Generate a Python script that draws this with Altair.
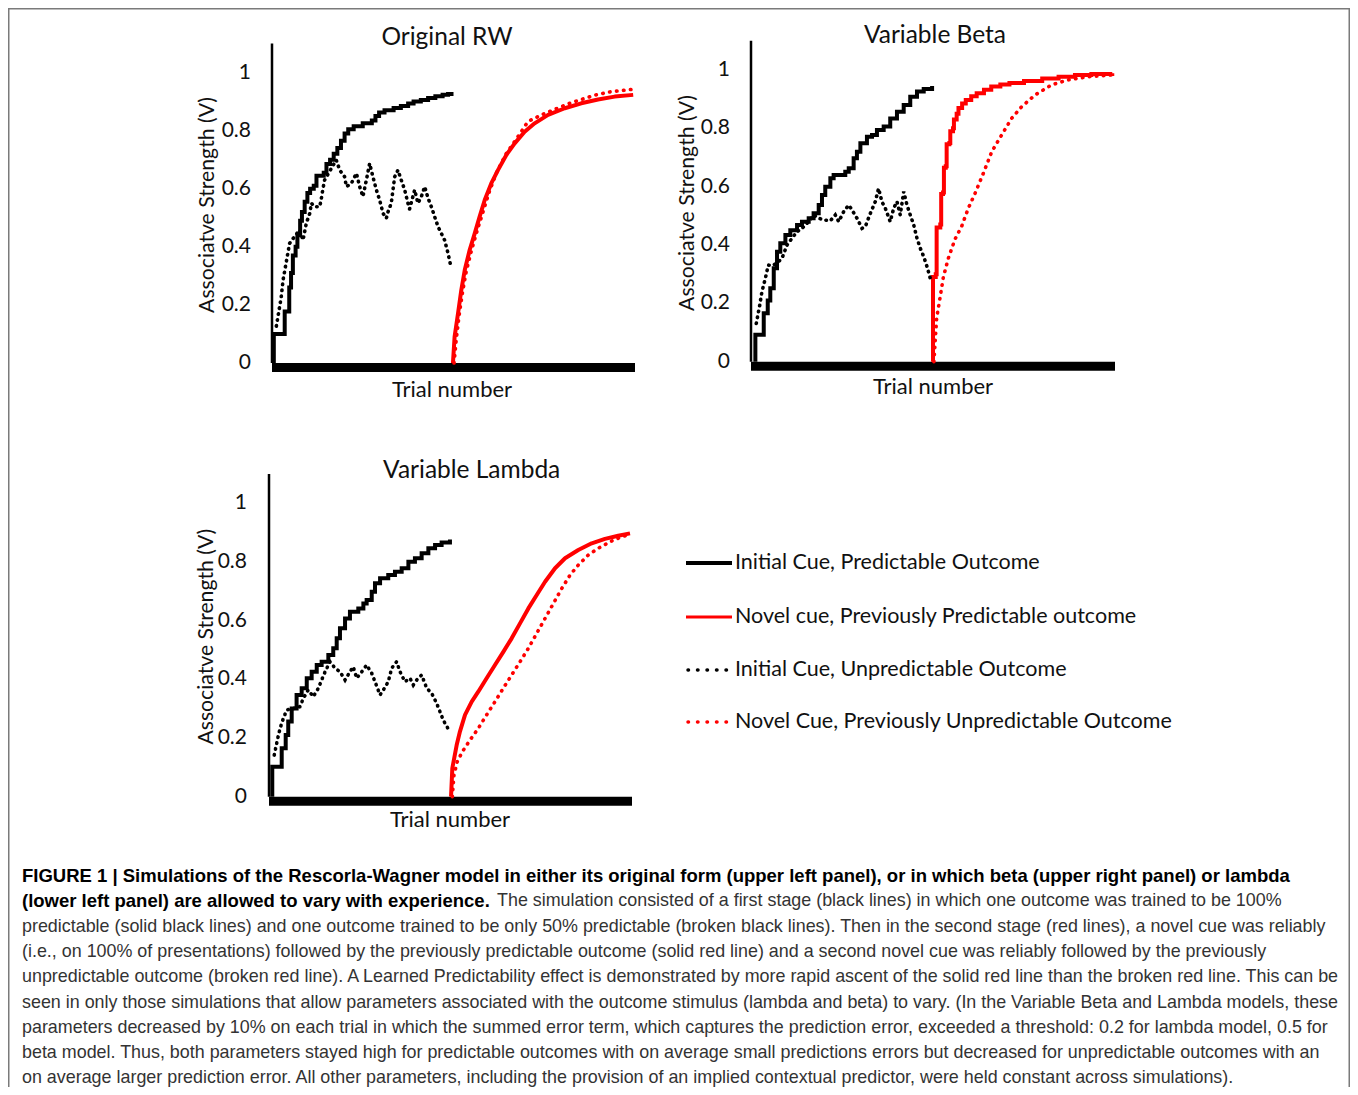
import altair as alt
import pandas as pd

# ---------------- data ----------------
# trial axis runs 0..200 (stage 1: 0-100, stage 2: 100-200); V axis 0..1.1

# Panel 1: Original RW
p1_init_pred_t = [1, 1, 7, 9.5, 10.5, 11.5, 13, 14, 15.5, 16.5, 18, 19.5, 21, 23, 24.5, 28.5, 30, 32, 34, 36, 38, 40, 42, 45, 50, 55, 57, 59, 62, 67, 71, 75, 78, 82, 86, 90, 94, 97, 100]
p1_init_pred_v = [0, 0.1, 0.177, 0.26, 0.31, 0.37, 0.40, 0.44, 0.49, 0.52, 0.555, 0.585, 0.60, 0.61, 0.645, 0.655, 0.685, 0.70, 0.72, 0.74, 0.765, 0.79, 0.805, 0.815, 0.825, 0.835, 0.85, 0.862, 0.87, 0.878, 0.885, 0.893, 0.90, 0.905, 0.912, 0.918, 0.923, 0.926, 0.926]
p1_init_unpred_t = [2.4, 4.2, 5.1, 6.1, 7.9, 9.7, 12.4, 15.2, 17.1, 18.9, 20.8, 21.7, 23.5, 26.3, 27.2, 28.1, 29.0, 32.7, 35.4, 37.3, 40.0, 41.0, 43.7, 46.5, 48.3, 50.1, 52.0, 53.8, 55.6, 57.5, 59.3, 61.2, 63.0, 63.9, 65.7, 67.6, 69.4, 71.2, 73.1, 74.9, 75.8, 78.6, 80.4, 82.3, 84.1, 86.0, 87.8, 89.6, 91.5, 93.3, 95.1, 97.0, 98.4]
p1_init_unpred_v = [0.127, 0.194, 0.228, 0.286, 0.349, 0.412, 0.435, 0.458, 0.423, 0.481, 0.515, 0.55, 0.538, 0.538, 0.567, 0.601, 0.63, 0.67, 0.699, 0.664, 0.641, 0.607, 0.618, 0.653, 0.607, 0.573, 0.63, 0.687, 0.641, 0.596, 0.561, 0.515, 0.498, 0.52, 0.55, 0.641, 0.664, 0.63, 0.596, 0.55, 0.53, 0.596, 0.55, 0.573, 0.607, 0.567, 0.538, 0.504, 0.469, 0.446, 0.423, 0.377, 0.337]
p1_novel_pred_t = [99.7, 100.6, 102.5, 104.3, 106.2, 108.9, 111.7, 114.4, 117.2, 120.8, 124.5, 129.1, 133.7, 139.2, 144.7, 152.1, 161.3, 170.4, 179.6, 188.8, 199]
p1_novel_pred_v = [0, 0.09, 0.171, 0.251, 0.32, 0.389, 0.446, 0.504, 0.561, 0.618, 0.664, 0.716, 0.756, 0.796, 0.825, 0.854, 0.877, 0.894, 0.907, 0.917, 0.923]
p1_novel_unpred_t = [100.3, 101.5, 103, 105, 107, 110, 113, 116, 120, 124, 129, 134, 141, 148.4, 155.8, 163.1, 170.4, 177.8, 186.9, 198.5]
p1_novel_unpred_v = [0, 0.08, 0.16, 0.245, 0.315, 0.39, 0.455, 0.515, 0.595, 0.66, 0.72, 0.765, 0.831, 0.854, 0.873, 0.892, 0.907, 0.922, 0.934, 0.942]

# Panel 2: Variable Beta
p2_init_pred_t = [2.4, 2.4, 7, 9.2, 10.6, 12.5, 14.3, 16.1, 18.9, 21.6, 25.3, 28, 31.7, 34.4, 37.2, 39, 40.8, 43.6, 45.4, 51.8, 53.7, 56.4, 58.2, 60.1, 63.7, 66.5, 69.2, 72.9, 76.5, 80.2, 83.9, 87.5, 91.2, 94.9, 99.5]
p2_init_pred_v = [0, 0.092, 0.166, 0.21, 0.252, 0.32, 0.377, 0.406, 0.434, 0.451, 0.469, 0.48, 0.492, 0.509, 0.537, 0.571, 0.6, 0.629, 0.64, 0.651, 0.663, 0.697, 0.72, 0.749, 0.771, 0.777, 0.794, 0.806, 0.834, 0.857, 0.88, 0.908, 0.926, 0.935, 0.945]
p2_init_unpred_t = [2.9, 4.8, 6.0, 7.9, 9.5, 12, 14.5, 17, 19.8, 22.5, 25.3, 28, 31.7, 34.4, 37.2, 39.9, 43.6, 46.3, 48.2, 50.9, 53.7, 55.5, 58.2, 61, 62.8, 65.6, 68.3, 70.1, 71.9, 73.8, 76.5, 78.4, 80.2, 82, 83.9, 85.7, 87.5, 89.4, 91.2, 93, 94.9, 96.7, 98.5]
p2_init_unpred_v = [0.131, 0.194, 0.24, 0.286, 0.331, 0.33, 0.34, 0.354, 0.4, 0.423, 0.446, 0.457, 0.48, 0.503, 0.492, 0.486, 0.483, 0.503, 0.48, 0.514, 0.537, 0.52, 0.492, 0.457, 0.463, 0.509, 0.549, 0.594, 0.549, 0.526, 0.48, 0.526, 0.549, 0.503, 0.583, 0.537, 0.503, 0.469, 0.423, 0.389, 0.36, 0.326, 0.286]
p2_novel_pred_t = [100, 100, 101.5, 102, 104, 104.5, 105.5, 106, 107, 107.5, 109, 109.5, 111, 111.5, 113, 114, 116, 118, 121, 124, 128, 132, 137, 142, 150, 160, 169, 178, 187, 198.5]
p2_novel_pred_v = [0, 0.29, 0.30, 0.46, 0.47, 0.575, 0.58, 0.665, 0.67, 0.745, 0.75, 0.79, 0.80, 0.83, 0.85, 0.87, 0.885, 0.897, 0.91, 0.92, 0.932, 0.943, 0.95, 0.955, 0.962, 0.971, 0.977, 0.983, 0.986, 0.989]
p2_novel_unpred_t = [100.5, 102, 103.8, 105.7, 108.4, 112.1, 115.8, 119.4, 123.1, 127.6, 132.3, 137.7, 143.2, 148.7, 156, 165.2, 174.3, 185.3, 198.5]
p2_novel_unpred_v = [0, 0.149, 0.217, 0.29, 0.354, 0.42, 0.465, 0.526, 0.577, 0.645, 0.72, 0.777, 0.834, 0.874, 0.914, 0.949, 0.966, 0.977, 0.983]

# Panel 3: Variable Lambda
p3_init_pred_t = [1.8, 1.8, 7, 9.2, 10.6, 12.5, 15.2, 18, 20.8, 23.5, 26.3, 29, 32.7, 35.4, 37.3, 39.1, 41.9, 44.6, 49.2, 52, 53.8, 56.6, 58.4, 61.2, 65.7, 69.4, 73.1, 76.8, 80.4, 84.1, 87.8, 91.5, 95.1, 99.7]
p3_init_pred_v = [0, 0.102, 0.165, 0.21, 0.256, 0.301, 0.347, 0.37, 0.404, 0.426, 0.449, 0.46, 0.483, 0.506, 0.54, 0.574, 0.608, 0.631, 0.642, 0.659, 0.671, 0.699, 0.728, 0.745, 0.756, 0.767, 0.779, 0.801, 0.813, 0.83, 0.847, 0.858, 0.867, 0.877]
p3_init_unpred_t = [2.9, 4.8, 6.1, 7.9, 9.8, 13, 17, 18.9, 21.6, 24.4, 27.2, 29, 30.9, 33.6, 36.4, 39.1, 41.9, 44.6, 46.4, 48.3, 51.1, 53.8, 56.6, 58.4, 61.2, 63, 65.7, 67.6, 70.3, 72.2, 74.9, 77.7, 79.5, 81.4, 84.1, 86.9, 89.6, 92.4, 94.2, 96, 98.4]
p3_init_unpred_v = [0.142, 0.199, 0.233, 0.267, 0.296, 0.30, 0.307, 0.335, 0.364, 0.341, 0.37, 0.398, 0.426, 0.46, 0.438, 0.426, 0.398, 0.426, 0.443, 0.404, 0.426, 0.449, 0.421, 0.392, 0.347, 0.364, 0.392, 0.438, 0.46, 0.426, 0.392, 0.404, 0.381, 0.398, 0.415, 0.37, 0.353, 0.318, 0.29, 0.261, 0.235]
p3_novel_pred_t = [100.3, 101, 103.4, 105.2, 108, 111.7, 115.3, 119.9, 124.5, 129.1, 133.7, 138.3, 142.9, 147.5, 152.1, 157.6, 163.1, 170.4, 177.8, 185.1, 192.4, 198.9]
p3_novel_pred_v = [0, 0.097, 0.176, 0.222, 0.279, 0.324, 0.358, 0.404, 0.449, 0.494, 0.54, 0.591, 0.642, 0.688, 0.733, 0.779, 0.813, 0.841, 0.864, 0.879, 0.89, 0.898]
p3_novel_unpred_t = [101, 101.9, 103.7, 106.5, 110.2, 115.3, 119.9, 124.5, 129.1, 133.7, 138.3, 142.9, 147.5, 152.1, 156.7, 161.3, 165.9, 170.4, 175.9, 181.4, 188.8, 194.3, 198.9]
p3_novel_unpred_v = [0, 0.074, 0.119, 0.153, 0.188, 0.233, 0.279, 0.324, 0.37, 0.415, 0.46, 0.506, 0.557, 0.608, 0.659, 0.71, 0.756, 0.79, 0.824, 0.847, 0.872, 0.886, 0.895]

panel_titles = ["Original RW", "Variable Beta", "Variable Lambda"]
y_title = "Associatve Strength (V)"
x_title = "Trial number"
tick_values = [0, 0.2, 0.4, 0.6, 0.8, 1]
tick_labels = ["0", "0.2", "0.4", "0.6", "0.8", "1"]
legend_labels = [
    "Initial Cue, Predictable Outcome",
    "Novel cue, Previously Predictable outcome",
    "Initial Cue, Unpredictable Outcome",
    "Novel Cue, Previously Unpredictable Outcome",
]
caption_bold = [
    "FIGURE 1 | Simulations of the Rescorla-Wagner model in either its original form (upper left panel), or in which beta (upper right panel) or lambda",
    "(lower left panel) are allowed to vary with experience.",
]
caption_rest_line2 = "The simulation consisted of a first stage (black lines) in which one outcome was trained to be 100%"
caption_lines = [
    "predictable (solid black lines) and one outcome trained to be only 50% predictable (broken black lines). Then in the second stage (red lines), a novel cue was reliably",
    "(i.e., on 100% of presentations) followed by the previously predictable outcome (solid red line) and a second novel cue was reliably followed by the previously",
    "unpredictable outcome (broken red line). A Learned Predictability effect is demonstrated by more rapid ascent of the solid red line than the broken red line. This can be",
    "seen in only those simulations that allow parameters associated with the outcome stimulus (lambda and beta) to vary. (In the Variable Beta and Lambda models, these",
    "parameters decreased by 10% on each trial in which the summed error term, which captures the prediction error, exceeded a threshold: 0.2 for lambda model, 0.5 for",
    "beta model. Thus, both parameters stayed high for predictable outcomes with on average small predictions errors but decreased for unpredictable outcomes with an",
    "on average larger prediction error. All other parameters, including the provision of an implied contextual predictor, were held constant across simulations).",
]

# ---------------- layout (pixels inside the chart) ----------------
W, H = 1342, 1079
FONT = "Lato"
CAPFONT = "Liberation Sans"
TXT = "#111111"
RED = "#ff0000"

geo = [
    dict(x0=264, x1=627, y0=355, y1=35.45, lab_x=243, yt_x=200, yt_y=197, t_x=439, t_y=30, xt_x=444, xt_y=382),
    dict(x0=743, x1=1107, y0=353.7, y1=32.8, lab_x=722, yt_x=680, yt_y=195, t_x=927, t_y=28, xt_x=925, xt_y=379),
    dict(x0=261, x1=624, y0=788.7, y1=466.1, lab_x=239, yt_x=198.7, yt_y=628.7, t_x=463.7, t_y=462.7, xt_x=442, xt_y=812),
]

series = [
    [(p1_init_pred_t, p1_init_pred_v), (p1_novel_pred_t, p1_novel_pred_v), (p1_init_unpred_t, p1_init_unpred_v), (p1_novel_unpred_t, p1_novel_unpred_v)],
    [(p2_init_pred_t, p2_init_pred_v), (p2_novel_pred_t, p2_novel_pred_v), (p2_init_unpred_t, p2_init_unpred_v), (p2_novel_unpred_t, p2_novel_unpred_v)],
    [(p3_init_pred_t, p3_init_pred_v), (p3_novel_pred_t, p3_novel_pred_v), (p3_init_unpred_t, p3_init_unpred_v), (p3_novel_unpred_t, p3_novel_unpred_v)],
]
styles = [
    dict(stroke="black", strokeWidth=4, interpolate="step-after", strokeCap="butt", strokeJoin="miter"),
    dict(stroke=RED, strokeWidth=4, interpolate="linear", strokeCap="butt", strokeJoin="round"),
    dict(stroke="black", strokeWidth=3.6, interpolate="linear", strokeCap="round", strokeDash=[0.5, 5.5]),
    dict(stroke=RED, strokeWidth=3.6, interpolate="linear", strokeCap="round", strokeDash=[0.5, 6.5]),
]

dummy = pd.DataFrame({"a": [0]})


def xs(g):
    return alt.Scale(domain=[0, 200], range=[g["x0"], g["x1"]], nice=False, zero=False)


def ys(g):
    return alt.Scale(domain=[0, 1.1], range=[g["y0"], g["y1"]], nice=False, zero=False)


def text_layer(txt, x, y, size, angle=0, align="center", font=FONT, weight="normal", color=TXT):
    kw = dict(text=txt, fontSize=size, font=font, align=align, baseline="middle", color=color, fontWeight=weight)
    if angle:
        kw["angle"] = angle
    return alt.Chart(dummy).mark_text(**kw).encode(x=alt.value(x), y=alt.value(y))


layers = []

# frame
layers.append(
    alt.Chart(dummy).mark_rect(fill="transparent", stroke="#7a7a7a", strokeWidth=1.5).encode(
        x=alt.value(0.75), x2=alt.value(W - 0.75), y=alt.value(0.75), y2=alt.value(H + 40)
    )
)

for pi, g in enumerate(geo):
    # axes lines
    ydf = pd.DataFrame({"t": [0], "v": [0], "v2": [1.1]})
    layers.append(alt.Chart(ydf).mark_rule(stroke="black", strokeWidth=2.5).encode(
        x=alt.X("t:Q", scale=xs(g), axis=None), y=alt.Y("v:Q", scale=ys(g), axis=None), y2="v2:Q"))
    xdf = pd.DataFrame({"t": [0], "t2": [200], "v": [0]})
    layers.append(alt.Chart(xdf).mark_rule(stroke="black", strokeWidth=9, yOffset=4.5).encode(
        x=alt.X("t:Q", scale=xs(g), axis=None), x2="t2:Q", y=alt.Y("v:Q", scale=ys(g), axis=None)))
    # tick labels
    tdf = pd.DataFrame({"v": tick_values, "lab": tick_labels})
    layers.append(alt.Chart(tdf).mark_text(align="right", baseline="middle", fontSize=21, font=FONT, color=TXT).encode(
        y=alt.Y("v:Q", scale=ys(g), axis=None), x=alt.value(g["lab_x"]), text="lab:N"))
    # texts
    layers.append(text_layer(y_title, g["yt_x"], g["yt_y"], 21.2, angle=270))
    layers.append(text_layer(panel_titles[pi], g["t_x"], g["t_y"], 24.5))
    layers.append(text_layer(x_title, g["xt_x"], g["xt_y"], 22))
    # data lines
    for si, (t, v) in enumerate(series[pi]):
        st = dict(styles[si])
        if pi == 1 and si == 1:
            st["interpolate"] = "step-after"
            st["strokeJoin"] = "miter"
        df = pd.DataFrame({"t": t, "v": v, "i": list(range(len(t)))})
        layers.append(alt.Chart(df).mark_line(**st).encode(
            x=alt.X("t:Q", scale=xs(g), axis=None),
            y=alt.Y("v:Q", scale=ys(g), axis=None),
            order="i:Q"))

# legend
leg_y = [555, 609, 662, 714]
for li, lab in enumerate(legend_labels):
    st = styles[li]
    kw = dict(stroke=st["stroke"], strokeWidth=(4 if li == 0 else 3 if li == 1 else 3.5), strokeCap=st["strokeCap"])
    x_start = 678
    if "strokeDash" in st:
        kw["strokeDash"] = [0.5, 9]
        x_start = 680
    layers.append(alt.Chart(dummy).mark_rule(**kw).encode(
        x=alt.value(x_start), x2=alt.value(724), y=alt.value(leg_y[li])))
    layers.append(text_layer(lab, 727, leg_y[li], 21.5, align="left"))

# caption
cap_y0 = 868
cap_dy = 25.3
BOLD_SIZE = 18.5
REG_SIZE = 17.9
layers.append(text_layer(caption_bold[0], 14, cap_y0, BOLD_SIZE, align="left", font=CAPFONT, weight="bold", color="#000000"))
layers.append(text_layer(caption_bold[1], 14, cap_y0 + cap_dy, BOLD_SIZE, align="left", font=CAPFONT, weight="bold", color="#000000"))
layers.append(text_layer(caption_rest_line2, 489, cap_y0 + cap_dy, REG_SIZE, align="left", font=CAPFONT, color="#333333"))
for k, line in enumerate(caption_lines):
    layers.append(text_layer(line, 14, cap_y0 + cap_dy * (k + 2), REG_SIZE, align="left", font=CAPFONT, color="#333333"))

chart = alt.layer(*layers).resolve_scale(x="independent", y="independent").properties(
    width=W, height=H, padding=0, autosize=alt.AutoSizeParams(type="none"), background="white"
).configure_view(stroke=None)

chart.save("out.html", embed_options={"renderer": "svg", "actions": False})
